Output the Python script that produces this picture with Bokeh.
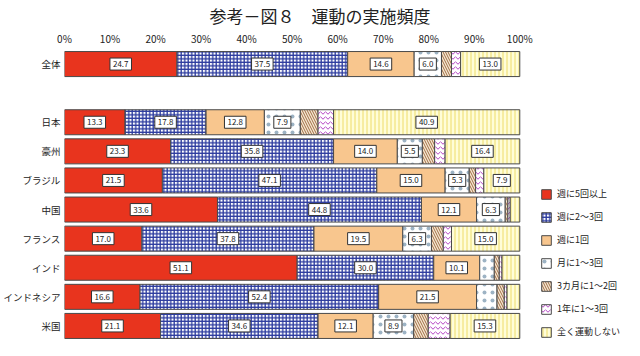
from bokeh.plotting import figure
from bokeh.models import ColumnDataSource, FactorRange, FixedTicker, Legend, LegendItem, Title, Range1d
from bokeh.core.properties import value
from bokeh.transform import stack
from bokeh.embed import file_html
from bokeh.resources import INLINE

FONT = "Noto Sans CJK JP"

categories = ["全体", "日本", "豪州", "ブラジル", "中国", "フランス", "インド", "インドネシア", "米国"]
series_names = ["週に5回以上", "週に2～3回", "週に1回", "月に1～3回", "3カ月に1～2回", "1年に1～3回", "全く運動しない"]
s1 = [24.7, 13.3, 23.3, 21.5, 33.6, 17.0, 51.1, 16.6, 21.1]
s2 = [37.5, 17.8, 35.8, 47.1, 44.8, 37.8, 30.0, 52.4, 34.6]
s3 = [14.6, 12.8, 14.0, 15.0, 12.1, 19.5, 10.1, 21.5, 12.1]
s4 = [6.0, 7.9, 5.5, 5.3, 6.3, 6.3, 3.2, 4.5, 8.9]
s5 = [2.2, 3.9, 2.7, 1.4, 0.6, 2.6, 1.1, 1.6, 3.2]
s6 = [2.0, 3.4, 2.3, 1.8, 0.5, 1.8, 0.6, 0.6, 4.8]
s7 = [13.0, 40.9, 16.4, 7.9, 2.1, 15.0, 3.9, 2.8, 15.3]
tick_values = [0, 10, 20, 30, 40, 50, 60, 70, 80, 90, 100]
tick_labels = ["0%", "10%", "20%", "30%", "40%", "50%", "60%", "70%", "80%", "90%", "100%"]

series = [s1, s2, s3, s4, s5, s6, s7]
keys = ["s1", "s2", "s3", "s4", "s5", "s6", "s7"]

data = {"cat": categories}
for k, s in zip(keys, series):
    data[k] = s
src = ColumnDataSource(data)

# row order top to bottom with a blank row after 全体
factors = [categories[0], " "] + categories[1:]
y_range = FactorRange(factors=list(reversed(factors)))

# frame spans to the right edge so the legend sits inside it
X_END = 123.0

p = figure(width=624, height=340, y_range=y_range, x_range=Range1d(0, X_END),
           output_backend="svg", toolbar_location=None,
           x_axis_location="above", min_border_left=58, min_border_right=0,
           min_border_top=30, min_border_bottom=0)

p.title = Title(text="参考－図８　運動の実施頻度", align="left", offset=145,
                text_font=FONT, text_font_size="17px", text_font_style="normal",
                text_color="#222222", standoff=0)

styles = [
    dict(fill_color="#E8341E", hatch_pattern=None),
    dict(fill_color="#FFFFFF", hatch_pattern="+", hatch_color="#2B3A9E", hatch_scale=3.5, hatch_weight=1.3),
    dict(fill_color="#F8C68E", hatch_pattern=None),
    dict(fill_color="#FFFFFF", hatch_pattern=".", hatch_color="#9DB3C4", hatch_scale=8, hatch_weight=0.6),
    dict(fill_color="#F6E7D2", hatch_pattern="\\", hatch_color="#A06E45", hatch_scale=5, hatch_weight=1),
    dict(fill_color="#FFFFFF", hatch_pattern="v", hatch_color="#B444C4", hatch_scale=5, hatch_weight=1),
    dict(fill_color="#FFFDD8", hatch_pattern="|", hatch_color="#EEDC6A", hatch_scale=4, hatch_weight=1),
]

items = []
for i, (k, name, st) in enumerate(zip(keys, series_names, styles)):
    kw = dict(st)
    if kw.get("hatch_pattern") is None:
        kw.pop("hatch_pattern")
    r = p.hbar(y="cat", left=stack(*keys[:i]), right=stack(*keys[:i + 1]), height=0.86,
               source=src, line_color="#4A4A4A", line_width=1, **kw)
    items.append(LegendItem(label=name, renderers=[r]))

# value labels (only segments of 5% or more)
lx, ly, lt = [], [], []
for j, c in enumerate(categories):
    cum = 0.0
    for s in series:
        v = s[j]
        if v >= 5:
            lx.append(cum + v / 2)
            ly.append(c)
            lt.append(f"{v:.1f}")
        cum += v
lsrc = ColumnDataSource(dict(x=lx, y=ly, t=lt))
p.text(x="x", y="y", text="t", source=lsrc, text_align="center", text_baseline="middle",
       text_font=value(FONT), text_font_size="8px", text_color="#222222",
       background_fill_color="white", border_line_color="#333333", border_line_width=1,
       padding=3)

legend = Legend(items=items, location=(476, 2), orientation="vertical",
                glyph_width=12, glyph_height=12, label_height=12, label_width=68, spacing=10,
                label_text_font=FONT, label_text_font_size="9px", label_text_color="#222222",
                border_line_color=None, background_fill_alpha=0, padding=0, margin=0,
                label_standoff=5)
p.add_layout(legend)

xa = p.xaxis[0]
xa.ticker = FixedTicker(ticks=tick_values)
xa.major_label_overrides = {v: l for v, l in zip(tick_values, tick_labels)}
xa.axis_line_color = None
xa.major_tick_line_color = None
xa.minor_tick_line_color = None
xa.major_tick_out = 0
xa.major_tick_in = 0
xa.major_label_standoff = 4
xa.major_label_text_font = FONT
xa.major_label_text_font_size = "10px"
xa.major_label_text_color = "#222222"

ya = p.yaxis[0]
ya.axis_line_color = None
ya.major_tick_line_color = None
ya.minor_tick_line_color = None
ya.major_tick_out = 0
ya.major_tick_in = 0
ya.major_label_standoff = 4
ya.major_label_text_font = FONT
ya.major_label_text_font_size = "9.5px"
ya.major_label_text_color = "#222222"

p.xgrid.grid_line_color = None
p.ygrid.grid_line_color = None
p.outline_line_color = None
p.y_range.range_padding = 0

open("out.html", "w").write(file_html(p, INLINE))
